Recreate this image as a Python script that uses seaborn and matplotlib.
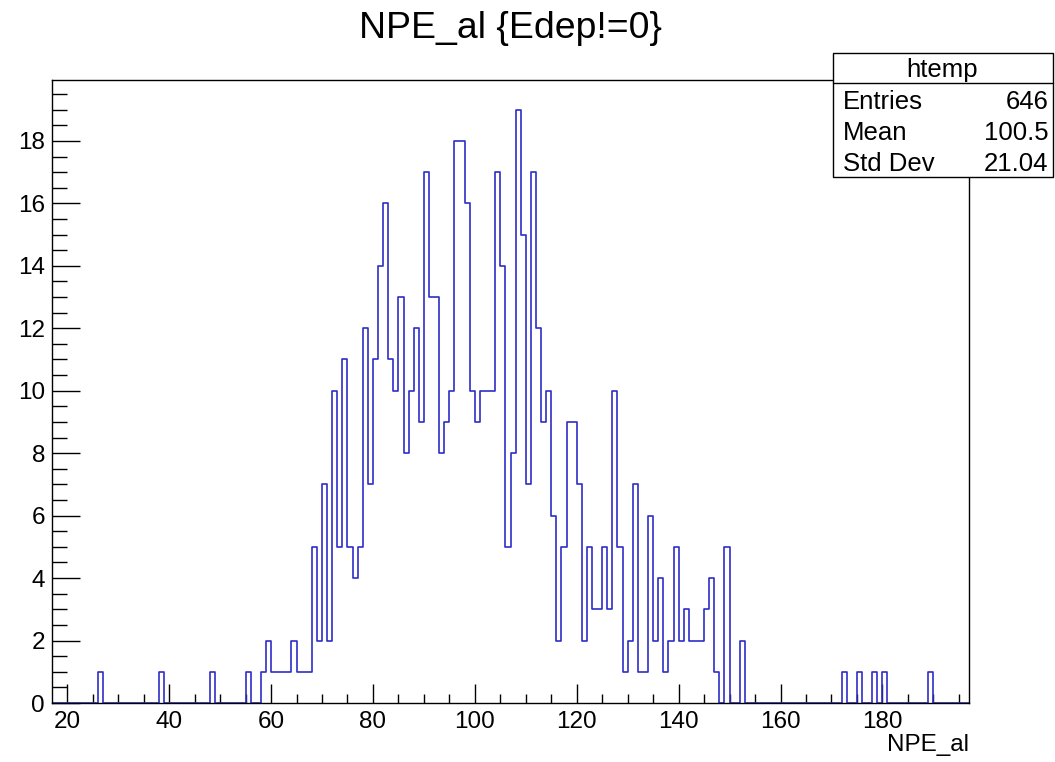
import numpy as np
import pandas as pd
import matplotlib
matplotlib.use("Agg")
import matplotlib.pyplot as plt
from matplotlib.ticker import MultipleLocator
from matplotlib.patches import Rectangle
from matplotlib.lines import Line2D
import seaborn as sns

# Histogram binning: 180 unit-wide bins from 17 to 197
x_min, x_max = 17, 197

# Lower edge of each filled bin and its content (empty bins omitted)
bin_low = [26, 38, 48, 55, 58, 59, 60, 61, 62, 63, 64, 65, 66, 67,
           68, 69, 70, 71, 72, 73, 74, 75, 76, 77,
           78, 79, 80, 81, 82, 83, 84, 85, 86, 87,
           88, 89, 90, 91, 92, 93, 94, 95, 96, 97,
           98, 99, 100, 101, 102, 103, 104, 105, 106, 107,
           108, 109, 110, 111, 112, 113, 114, 115, 116, 117,
           118, 119, 120, 121, 122, 123, 124, 125, 126, 127,
           128, 129, 130, 131, 132, 133, 134, 135, 136, 137,
           138, 139, 140, 141, 142, 143, 144, 145, 146, 147,
           149, 152, 172, 175, 178, 180, 189]
counts = [1, 1, 1, 1, 1, 2, 1, 1, 1, 1, 2, 1, 1, 1,
          5, 2, 7, 2, 10, 5, 11, 5, 4, 5,
          12, 7, 11, 14, 16, 11, 10, 13, 8, 10,
          12, 9, 17, 13, 13, 8, 9, 10, 18, 18,
          16, 10, 9, 10, 10, 10, 17, 14, 5, 8,
          19, 15, 7, 17, 12, 9, 10, 6, 2, 5,
          9, 9, 7, 2, 5, 3, 3, 5, 3, 10,
          5, 1, 2, 7, 1, 1, 6, 2, 4, 1,
          2, 5, 2, 3, 2, 2, 2, 3, 4, 1,
          5, 2, 1, 1, 1, 1, 1]

title = "NPE_al {Edep!=0}"
x_label = "NPE_al"
stats_name = "htemp"
stats_mean = "100.5"
stats_std = "21.04"

sns.set_style("white")
plt.rcParams["font.family"] = ["Liberation Sans", "DejaVu Sans"]
for key in ["text.color", "axes.labelcolor", "xtick.color", "ytick.color",
            "axes.edgecolor"]:
    plt.rcParams[key] = "black"

W, H, DPI = 1055, 762, 100
fig = plt.figure(figsize=(W / DPI, H / DPI), dpi=DPI)
fig.patch.set_facecolor("white")


def fx(px):
    return px / W


def fy(py):
    return 1 - py / H


ax = fig.add_axes([fx(52), fy(703), fx(969) - fx(52), fy(80) - fy(703)])

hist_df = pd.DataFrame({"npe": np.asarray(bin_low, dtype=float) + 0.5,
                        "n": np.asarray(counts, dtype=float)})
sns.histplot(data=hist_df, x="npe", weights="n", binwidth=1,
             binrange=(x_min, x_max), element="step", fill=False,
             color="#2e2ec8", linewidth=1.2, ax=ax)

ax.set_xlim(x_min, x_max)
ax.set_ylim(0, max(counts) * 1.05)
ax.set_ylabel("")
ax.set_xlabel("")

ax.xaxis.set_major_locator(MultipleLocator(20))
ax.xaxis.set_minor_locator(MultipleLocator(5))
ax.yaxis.set_major_locator(MultipleLocator(2))
ax.yaxis.set_minor_locator(MultipleLocator(0.5))

tick_font = 17.5
ax.tick_params(axis="x", which="major", direction="in", length=13.5, width=1.0,
               pad=6, labelsize=tick_font, bottom=True, top=False,
               color="black", labelcolor="black")
ax.tick_params(axis="x", which="minor", direction="in", length=6.8, width=1.0,
               bottom=True, top=False, color="black")
ax.tick_params(axis="y", which="major", direction="in", length=20, width=1.0,
               pad=5, labelsize=tick_font, left=True, right=False,
               color="black", labelcolor="black")
ax.tick_params(axis="y", which="minor", direction="in", length=10.8, width=1.0,
               left=True, right=False, color="black")

for side in ["left", "right", "top", "bottom"]:
    ax.spines[side].set_visible(True)
    ax.spines[side].set_color("black")
    ax.spines[side].set_linewidth(1.0)

ax.set_xlabel(x_label, fontsize=tick_font, loc="right", color="black")
ax.xaxis.set_label_coords(1.0, -0.05)
ax.xaxis.label.set_va("top")

fig.text(fx(510.5), fy(38.5), title, ha="center", va="baseline",
         fontsize=26.9, color="black")

# Statistics box
box_l, box_r, box_t, box_b, box_sep = 832.5, 1052.5, 53.3, 176.7, 83.0
stat_font = 18.5
fig.add_artist(Rectangle((fx(box_l), fy(box_b)), fx(box_r) - fx(box_l),
                         fy(box_t) - fy(box_b), transform=fig.transFigure,
                         facecolor="white", edgecolor="black", linewidth=1.0,
                         zorder=5))
fig.add_artist(Line2D([fx(box_l), fx(box_r)], [fy(box_sep), fy(box_sep)],
                      transform=fig.transFigure, color="black", linewidth=1.0,
                      zorder=6))
fig.text(fx((box_l + box_r) / 2), fy(76.7), stats_name, ha="center",
         va="baseline", fontsize=stat_font, color="black", zorder=7)

rows = [("Entries", f"{int(sum(counts))}"),
        ("Mean", stats_mean),
        ("Std Dev", stats_std)]
for i, (name, val) in enumerate(rows):
    base = 109.3 + i * 30.7
    fig.text(fx(843), fy(base), name, ha="left", va="baseline",
             fontsize=stat_font, color="black", zorder=7)
    fig.text(fx(1048.5), fy(base), val, ha="right", va="baseline",
             fontsize=stat_font, color="black", zorder=7)

fig.savefig("out.png", dpi=DPI)
